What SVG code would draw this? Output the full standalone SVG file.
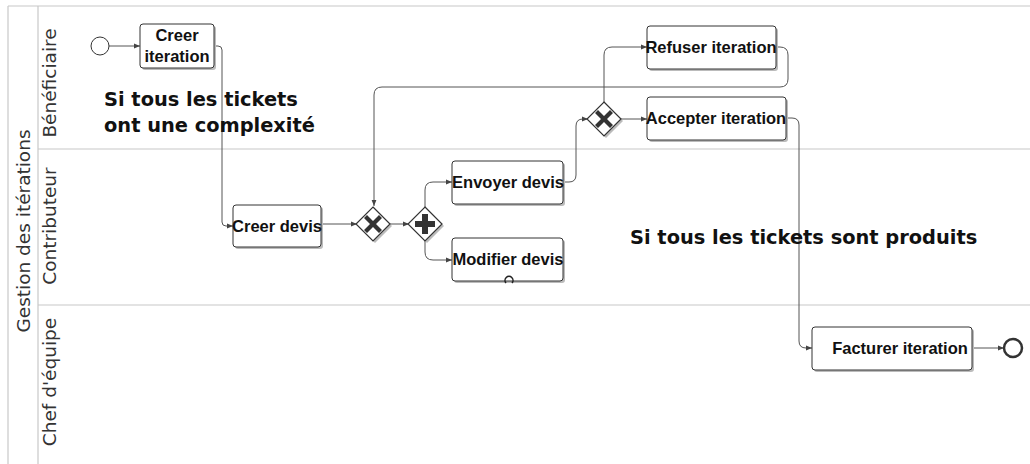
<svg xmlns="http://www.w3.org/2000/svg" width="1030" height="464" viewBox="0 0 1030 464">
<style>
.lane{stroke:#c8c8c8;stroke-width:1.2;fill:none}
.lbl{font-family:"DejaVu Sans",sans-serif;font-size:18.5px;fill:#333;text-anchor:middle}
.task{fill:#fff;stroke:#333;stroke-width:1}
.shadow{fill:#bbb}
.tt{font-family:"Liberation Sans",Arial,sans-serif;font-weight:bold;font-size:16.5px;fill:#111;text-anchor:middle}
.note{font-family:"DejaVu Sans",sans-serif;font-weight:bold;font-size:19.4px;fill:#111}
.flow{fill:none;stroke:#555;stroke-width:1}
.gw{fill:#fff;stroke:#333;stroke-width:1.2}
.mark{fill:#333}
</style>
<defs>
<marker id="arr" viewBox="0 0 10 10" refX="10" refY="5" markerWidth="6" markerHeight="6" orient="auto">
<path d="M0,1 L10,5 L0,9 z" fill="#444"/>
</marker>
</defs>
<rect width="1030" height="464" fill="#fff"/>
<g id="pool">
<path class="lane" d="M8,6 H1030 M8,6 V464 M38,6 V464 M38,149 H1030 M38,305 H1030"/>
<text class="lbl" transform="translate(30,231) rotate(-90)">Gestion des itérations</text>
<text class="lbl" transform="translate(56,83) rotate(-90)">Bénéficiaire</text>
<text class="lbl" transform="translate(56,226) rotate(-90)">Contributeur</text>
<text class="lbl" transform="translate(56,382) rotate(-90)">Chef d'équipe</text>
</g>
<g id="connectors">
<path class="flow" marker-end="url(#arr)" d="M109,46 H140"/>
<path class="flow" marker-end="url(#arr)" d="M214,46 H218 Q222,46 222,50 V222 Q222,226 226,226 H233"/>
<path class="flow" marker-end="url(#arr)" d="M321,224 H357"/>
<path class="flow" marker-end="url(#arr)" d="M390,224 H409"/>
<path class="flow" marker-end="url(#arr)" d="M425,207 V190 Q425,182 433,182 H452"/>
<path class="flow" marker-end="url(#arr)" d="M425,241 V252 Q425,260 433,260 H452"/>
<path class="flow" marker-end="url(#arr)" d="M563,182 H569 Q576,182 576,175 V126 Q576,119 583,119 H588"/>
<path class="flow" marker-end="url(#arr)" d="M604,102 V55 Q604,47 612,47 H647"/>
<path class="flow" marker-end="url(#arr)" d="M621,119 H647"/>
<path class="flow" marker-end="url(#arr)" d="M776,47 H780 Q788,47 788,55 V79 Q788,87 780,87 H382 Q374,87 374,95 V206"/>
<path class="flow" marker-end="url(#arr)" d="M786,118 H792 Q799,118 799,125 V341 Q799,348 806,348 H812"/>
<path class="flow" marker-end="url(#arr)" d="M972,348 H1004"/>
</g>
<g id="start">
<circle cx="100" cy="46" r="9" fill="#fff" stroke="#333" stroke-width="1"/>
</g>
<g id="creer-iteration">
<rect class="shadow" x="142" y="26" width="74" height="44" rx="3"/>
<rect class="task" x="140" y="24" width="74" height="44" rx="3"/>
<text class="tt" x="177" y="41">Creer</text>
<text class="tt" x="177" y="62">iteration</text>
</g>
<g id="creer-devis">
<rect class="shadow" x="235" y="207" width="88" height="42" rx="3"/>
<rect class="task" x="233" y="205" width="88" height="42" rx="3"/>
<text class="tt" x="277" y="232">Creer devis</text>
</g>
<g id="gateway-xor1">
<path d="M375,209 L392,226 L375,243 L358,226 z" fill="#bbb"/>
<path class="gw" d="M373,207 L390,224 L373,241 L356,224 z"/>
<path class="mark" d="M367,215 L373,221 L379,215 L382,218 L376,224 L382,230 L379,233 L373,227 L367,233 L364,230 L370,224 L364,218 z"/>
</g>
<g id="gateway-and">
<path d="M427,209 L444,226 L427,243 L410,226 z" fill="#bbb"/>
<path class="gw" d="M425,207 L442,224 L425,241 L408,224 z"/>
<path class="mark" d="M422,214 H428 V221 H435 V227 H428 V234 H422 V227 H415 V221 H422 z"/>
</g>
<g id="envoyer-devis">
<rect class="shadow" x="454" y="163" width="111" height="43" rx="3"/>
<rect class="task" x="452" y="161" width="111" height="43" rx="3"/>
<text class="tt" x="508" y="188">Envoyer devis</text>
</g>
<g id="modifier-devis">
<rect class="shadow" x="454" y="240" width="111" height="43" rx="3"/>
<rect class="task" x="452" y="238" width="111" height="43" rx="3"/>
<text class="tt" x="508" y="265">Modifier devis</text>
<path d="M506,283 A4,4 0 1 1 512,283" fill="none" stroke="#222" stroke-width="1.5"/>
</g>
<g id="gateway-xor2">
<path d="M606,104 L623,121 L606,138 L589,121 z" fill="#bbb"/>
<path class="gw" d="M604,102 L621,119 L604,136 L587,119 z"/>
<path class="mark" d="M598,110 L604,116 L610,110 L613,113 L607,119 L613,125 L610,128 L604,122 L598,128 L595,125 L601,119 L595,113 z"/>
</g>
<g id="refuser-iteration">
<rect class="shadow" x="649" y="28" width="129" height="43" rx="3"/>
<rect class="task" x="647" y="26" width="129" height="43" rx="3"/>
<text class="tt" x="711" y="53">Refuser iteration</text>
</g>
<g id="accepter-iteration">
<rect class="shadow" x="649" y="99" width="139" height="43" rx="3"/>
<rect class="task" x="647" y="97" width="139" height="43" rx="3"/>
<text class="tt" x="716" y="124">Accepter iteration</text>
</g>
<g id="facturer-iteration">
<rect class="shadow" x="814" y="329" width="160" height="43" rx="3"/>
<rect class="task" x="812" y="327" width="160" height="43" rx="3"/>
<text class="tt" x="900" y="354">Facturer iteration</text>
</g>
<g id="end">
<circle cx="1013" cy="348" r="9" fill="#fff" stroke="#333" stroke-width="2.5"/>
</g>
<g id="annotations">
<text class="note" x="104" y="106">Si tous les tickets</text>
<text class="note" x="104" y="132">ont une complexité</text>
<text class="note" x="630" y="244">Si tous les tickets sont produits</text>
</g>
</svg>
